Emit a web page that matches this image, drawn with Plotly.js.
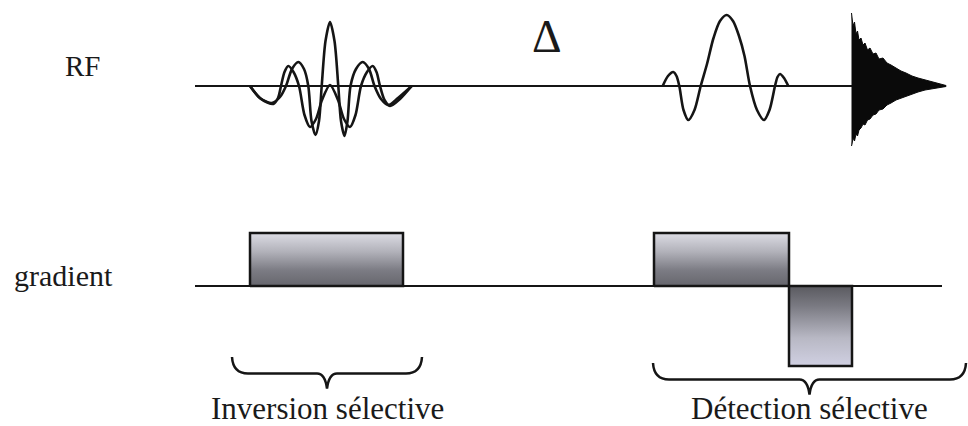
<!DOCTYPE html>
<html>
<head>
<meta charset="utf-8">
<script src="https://cdn.plot.ly/plotly-3.0.1.min.js"></script>
<style>html,body{margin:0;padding:0;background:#fff}#chart{width:968px;height:426px}</style>
</head>
<body>
<div id="chart"></div>
<script>
// ---- data (time axis in arbitrary units, amplitudes relative to each baseline) ----
const rowLabels = ['RF', 'gradient'];
const delayLabel = 'Δ';
const sectionLabels = ['Inversion sélective', 'Détection sélective'];
const sectionStart = [232, 653];
const sectionEnd = [422, 966];

const seqStart = 195;
const seqEnd = 945;

// inversion pulse: sinc and modulated sinc
const invT = [250, 260, 271.7, 280, 286, 292, 298.3, 304, 308.3, 311.5, 315.5, 319, 321.7, 325.5, 330, 334.5, 338.3, 341, 344.5, 347.5, 350.5, 356, 362.7, 369, 374.5, 381, 388.3, 398, 411.7];
const invA = [0, -12, -17, -11, 0, 17, 24, 17, 0, -35, -49, -35, 0, 45, 64, 45, 0, -35, -50, -35, 0, 17, 24, 17, 0, -13, -19, -12, 0];
const inv2T = [250, 261, 273.3, 278, 281, 284.5, 288.3, 293.5, 299, 304.5, 310, 316, 322, 330, 338, 344, 350, 355.5, 361, 367, 372.7, 376.5, 380, 384.5, 390, 400, 411.7];
const inv2A = [0, -13, -18, -12, 0, 14, 20, 14, 0, -29, -41, -33, -14, 1, -14, -33, -41, -29, 0, 14, 20, 14, 0, -14, -20, -13, 0];

// detection pulse: sinc
const detT = [662.7, 668, 673.3, 676.5, 679.3, 683.5, 688.3, 694.5, 700.7, 707, 713.5, 720, 726.7, 733, 739, 744.5, 750, 757, 764, 769.5, 775, 777.5, 780, 784, 788.3];
const detA = [0, 10, 14, 10, 0, -24, -34, -24, 0, 22, 48, 65, 71, 65, 50, 30, 0, -24, -34, -24, 0, 9, 12, 8, 0];

// FID envelope
const fidT  = [851.5, 852, 853, 854.5, 856, 857.5, 859, 861, 863, 865, 867.5, 870, 873, 876, 879, 883, 887, 891, 896, 901, 906, 912, 918, 925, 932, 940, 946];
const fidUp = [73, 70, 60, 64, 52, 55, 46, 48, 41, 43, 36, 38, 32, 33, 27, 28, 23, 21, 18, 15, 13, 10, 8, 6, 4, 2, 0.5];
const fidLo = [-60, -58, -52, -55, -48, -50, -44, -42, -38, -39, -34, -33, -29, -28, -24, -23, -19, -17, -14, -12, -10, -8, -6, -4, -3, -1.5, -0.5];

// gradient lobes
const gradStart = [250, 654, 789];
const gradEnd = [403, 789, 852];
const gradAmp = [53, 53, -80];

// ---- layout constants ----
const rfBase = 340, gradBase = 140;
const ink = '#151515';
const serif = 'Liberation Serif, Times New Roman, serif';

const traces = [];
// baselines
traces.push({x: [seqStart, seqEnd], y: [rfBase, rfBase], mode: 'lines', line: {color: ink, width: 2}, hoverinfo: 'skip'});
traces.push({x: [seqStart, seqEnd - 3], y: [gradBase, gradBase], mode: 'lines', line: {color: ink, width: 2}, hoverinfo: 'skip'});

// gradient lobes
gradStart.forEach((s, i) => {
  const e = gradEnd[i], a = gradAmp[i];
  const top = gradBase + a;
  const cs = a > 0
    ? [[0, '#66666d'], [0.3, '#7c7c84'], [0.65, '#b2b2ba'], [1, '#dcdce4']]
    : [[0, '#d0d0e2'], [0.35, '#b8b8c4'], [0.75, '#7a7a82'], [1, '#5a5a60']];
  traces.push({
    x: [s, s, e, e, s], y: [gradBase, top, top, gradBase, gradBase],
    mode: 'lines', fill: 'toself',
    fillgradient: {type: 'vertical', colorscale: cs, start: Math.min(gradBase, top), stop: Math.max(gradBase, top)},
    line: {color: ink, width: 2.5}, hoverinfo: 'skip'
  });
});

// FID
traces.push({
  x: fidT.concat(fidT.slice().reverse()),
  y: fidUp.map(v => rfBase + v).concat(fidLo.slice().reverse().map(v => rfBase + v)),
  mode: 'lines', fill: 'toself', fillcolor: '#0a0a0a',
  line: {color: '#0a0a0a', width: 1}, hoverinfo: 'skip'
});

// RF pulses
[[invT, invA], [inv2T, inv2A], [detT, detA]].forEach(([t, a]) => {
  traces.push({
    x: t, y: a.map(v => rfBase + v), mode: 'lines',
    line: {color: ink, width: 2.6, shape: 'spline', smoothing: 0.8}, hoverinfo: 'skip'
  });
});

// braces
const braceTop = [69, 63];
const shapes = sectionStart.map((s, i) => {
  const e = sectionEnd[i];
  const m = (s + e) / 2;
  const t = braceTop[i];
  const h = t - 16.5, tip = t - 31.5;
  return {
    type: 'path', xref: 'x', yref: 'y',
    path: `M ${s},${t} Q ${s + 1},${h} ${s + 16},${h} L ${m - 10},${h} Q ${m - 2},${h} ${m},${tip} Q ${m + 2},${h} ${m + 10},${h} L ${e - 16},${h} Q ${e - 1},${h} ${e},${t}`,
    line: {color: ink, width: 2.5}
  };
});

const annotations = [
  {x: 82.5, y: 426 - 66, text: rowLabels[0], font: {size: 29}},
  {x: 63, y: 426 - 275, text: rowLabels[1], font: {size: 30}},
  {x: 547, y: 426 - 36, text: delayLabel, font: {size: 46}},
  {x: (sectionStart[0] + sectionEnd[0]) / 2, y: 426 - 408, text: sectionLabels[0], font: {size: 31}},
  {x: (sectionStart[1] + sectionEnd[1]) / 2, y: 426 - 408, text: sectionLabels[1], font: {size: 31}}
].map(a => Object.assign({xref: 'x', yref: 'y', showarrow: false, xanchor: 'center', yanchor: 'middle'}, a, {font: Object.assign({family: serif, color: '#1a1a1a'}, a.font)}));

const layout = {
  width: 968, height: 426,
  margin: {l: 0, r: 0, t: 0, b: 0},
  paper_bgcolor: '#ffffff', plot_bgcolor: '#ffffff',
  showlegend: false,
  xaxis: {range: [0, 968], visible: false, fixedrange: true},
  yaxis: {range: [0, 426], visible: false, fixedrange: true},
  shapes: shapes,
  annotations: annotations
};

Plotly.newPlot('chart', traces, layout, {displayModeBar: false, staticPlot: true});
</script>
</body>
</html>
